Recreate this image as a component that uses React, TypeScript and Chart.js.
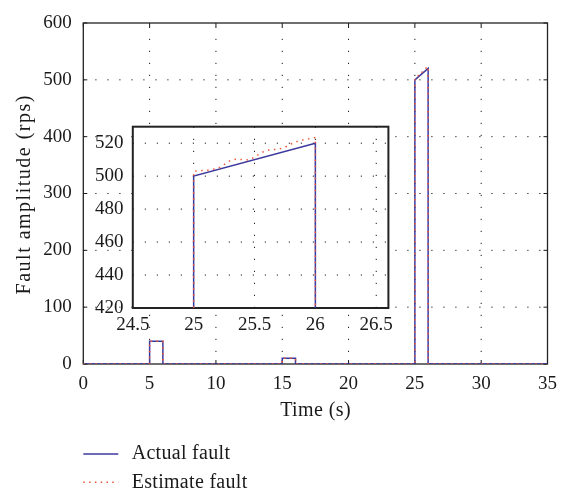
import { useEffect, useRef } from "react";
import { Chart, registerables } from "chart.js";

Chart.register(...registerables);

// Fault profiles over time (s) -> amplitude (rps)
const actualTime = [0, 5, 5, 6, 6, 15, 15, 16, 16, 25, 25, 26, 26, 35];
const actualFault = [0, 0, 40, 40, 0, 0, 10, 10, 0, 0, 500, 520, 0, 0];

const estimateTime = [
  0, 5, 5, 6, 6, 15, 15, 16, 16, 25, 25, 25.1, 25.2, 25.25, 25.3, 25.35, 25.45, 25.5,
  25.55, 25.6, 25.7, 25.75, 25.8, 25.85, 25.9, 26, 26, 35,
];
const estimateFault = [
  0, 0, 40, 40, 0, 0, 10, 10, 0, 0, 503, 503.5, 504.6, 507, 509.5, 510.3, 509.8, 511.5,
  514, 515.7, 516.4, 517.5, 519.5, 521, 522, 523.5, 0, 0,
];

// Axis ticks
const mainXTicks = [0, 5, 10, 15, 20, 25, 30, 35];
const mainYTicks = [0, 100, 200, 300, 400, 500, 600];
const insetXTicks = [24.5, 25, 25.5, 26, 26.5];
const insetYTicks = [420, 440, 460, 480, 500, 520];

const xTitle = "Time (s)";
const yTitle = "Fault amplitude (rps)";

const SERIF = '"Liberation Serif", "Times New Roman", serif';
const ACTUAL_COLOR = "#3d3a9e";
const ESTIMATE_COLOR = "#f0573a";
const INK = "#1a1a1a";

const W = 571;
const H = 492;

const toPoints = (xs: number[], ys: number[]) => xs.map((x, i) => ({ x, y: ys[i] }));

function makeDatasets() {
  return [
    {
      label: "Estimate fault",
      data: toPoints(estimateTime, estimateFault),
      borderColor: ESTIMATE_COLOR,
      backgroundColor: ESTIMATE_COLOR,
      borderWidth: 1.5,
      borderDash: [1.5, 4.5],
      pointRadius: 0,
      tension: 0,
      order: 0,
    },
    {
      label: "Actual fault",
      data: toPoints(actualTime, actualFault),
      borderColor: ACTUAL_COLOR,
      backgroundColor: ACTUAL_COLOR,
      borderWidth: 1.5,
      pointRadius: 0,
      tension: 0,
      order: 1,
    },
  ];
}

// Dotted grid, inward tick marks and the axes box
function framePlugin(
  id: string,
  o: { xVals: number[]; yVals: number[]; frameWidth: number; tickLen: number; fillWhite: boolean }
) {
  return {
    id,
    beforeDatasetsDraw(chart: any) {
      const { ctx, chartArea: a, scales } = chart;
      const xs = scales.x;
      const ys = scales.y;
      ctx.save();
      if (o.fillWhite) {
        ctx.fillStyle = "#fff";
        ctx.fillRect(a.left, a.top, a.right - a.left, a.bottom - a.top);
      }
      ctx.strokeStyle = INK;
      ctx.lineWidth = 1;
      ctx.setLineDash([1.2, 10.8]);
      for (const v of o.xVals) {
        const px = xs.getPixelForValue(v);
        if (px <= a.left + 1 || px >= a.right - 1) continue;
        ctx.beginPath();
        ctx.moveTo(px, a.bottom);
        ctx.lineTo(px, a.top);
        ctx.stroke();
      }
      for (const v of o.yVals) {
        const py = ys.getPixelForValue(v);
        if (py <= a.top + 1 || py >= a.bottom - 1) continue;
        ctx.beginPath();
        ctx.moveTo(a.left, py);
        ctx.lineTo(a.right, py);
        ctx.stroke();
      }
      ctx.setLineDash([]);
      if (o.tickLen > 0) {
        ctx.lineWidth = 1;
        for (const v of o.xVals) {
          const px = xs.getPixelForValue(v);
          ctx.beginPath();
          ctx.moveTo(px, a.bottom);
          ctx.lineTo(px, a.bottom - o.tickLen);
          ctx.moveTo(px, a.top);
          ctx.lineTo(px, a.top + o.tickLen);
          ctx.stroke();
        }
        for (const v of o.yVals) {
          const py = ys.getPixelForValue(v);
          ctx.beginPath();
          ctx.moveTo(a.left, py);
          ctx.lineTo(a.left + o.tickLen, py);
          ctx.moveTo(a.right, py);
          ctx.lineTo(a.right - o.tickLen, py);
          ctx.stroke();
        }
      }
      ctx.lineWidth = o.frameWidth;
      ctx.strokeStyle = "#222";
      ctx.strokeRect(a.left, a.top, a.right - a.left, a.bottom - a.top);
      ctx.restore();
    },
  };
}

// Draws text centred on (cx, baselineY) with extra letter spacing
function spacedText(ctx: any, text: string, cx: number, baseY: number, spacing: number) {
  ctx.letterSpacing = `${spacing}px`;
  const w = ctx.measureText(text).width - spacing;
  ctx.textAlign = "left";
  ctx.fillText(text, cx - w / 2, baseY);
  ctx.letterSpacing = "0px";
}

// Axis titles and the legend stacked below the plot
const annotationPlugin = {
  id: "titlesAndLegend",
  afterDraw(chart: any) {
    const { ctx, chartArea: a } = chart;
    const sets = chart.data.datasets;
    const actual = sets.find((d: any) => d.label === "Actual fault");
    const estimate = sets.find((d: any) => d.label === "Estimate fault");
    ctx.save();
    ctx.fillStyle = INK;
    ctx.font = `20px ${SERIF}`;
    ctx.textBaseline = "alphabetic";

    // x title
    spacedText(ctx, xTitle, (a.left + a.right) / 2, 415.5, 0.4);

    // y title, rotated
    ctx.save();
    ctx.translate(29.5, (a.top + a.bottom) / 2 + 1.5);
    ctx.rotate(-Math.PI / 2);
    spacedText(ctx, yTitle, 0, 0, 1.5);
    ctx.restore();

    // legend
    ctx.lineWidth = 1.5;
    ctx.strokeStyle = actual.borderColor;
    ctx.beginPath();
    ctx.moveTo(83.3, 454);
    ctx.lineTo(118.3, 454);
    ctx.stroke();
    ctx.strokeStyle = estimate.borderColor;
    ctx.setLineDash([1.5, 4.3]);
    ctx.beginPath();
    ctx.moveTo(83.3, 482.3);
    ctx.lineTo(118.3, 482.3);
    ctx.stroke();
    ctx.setLineDash([]);
    ctx.textAlign = "left";
    ctx.letterSpacing = "0.3px";
    ctx.fillText(actual.label, 131.7, 459.3);
    ctx.fillText(estimate.label, 131.7, 487.5);
    ctx.letterSpacing = "0px";
    ctx.restore();
  },
};

const tickFont = { family: SERIF, size: 19 };
const fmt = (v: any) => String(Math.round(Number(v) * 10) / 10);

export default function App() {
  const mainRef = useRef<HTMLCanvasElement | null>(null);
  const insetRef = useRef<HTMLCanvasElement | null>(null);

  useEffect(() => {
    if (!mainRef.current || !insetRef.current) return;

    const main = new Chart(mainRef.current, {
      type: "line",
      data: { datasets: makeDatasets() as any },
      options: {
        responsive: false,
        animation: false,
        devicePixelRatio: 1,
        layout: { padding: { left: 0, right: W - 547.5, top: 12.7, bottom: 0 } },
        plugins: { legend: { display: false }, tooltip: { enabled: false } },
        scales: {
          x: {
            type: "linear",
            min: 0,
            max: 35,
            afterBuildTicks: (s: any) => {
              s.ticks = mainXTicks.map((v) => ({ value: v }));
            },
            ticks: { padding: 8.6, font: tickFont, color: INK, maxRotation: 0, callback: fmt },
            grid: { display: false, drawTicks: false },
            border: { display: false },
            afterFit: (s: any) => {
              s.height = H - 364;
            },
          },
          y: {
            type: "linear",
            min: 0,
            max: 600,
            afterBuildTicks: (s: any) => {
              s.ticks = mainYTicks.map((v) => ({ value: v }));
            },
            ticks: { padding: 11.6, font: tickFont, color: INK, callback: fmt },
            grid: { display: false, drawTicks: false },
            border: { display: false },
            afterFit: (s: any) => {
              s.width = 83.3;
            },
          },
        },
      } as any,
      plugins: [
        framePlugin("mainFrame", {
          xVals: mainXTicks,
          yVals: mainYTicks,
          frameWidth: 1.3,
          tickLen: 4,
          fillWhite: false,
        }),
        annotationPlugin,
      ],
    });

    const inset = new Chart(insetRef.current, {
      type: "line",
      data: { datasets: makeDatasets() as any },
      options: {
        responsive: false,
        animation: false,
        devicePixelRatio: 1,
        layout: { padding: { left: 0, right: W - 388.4, top: 126.7, bottom: 0 } },
        plugins: { legend: { display: false }, tooltip: { enabled: false } },
        scales: {
          x: {
            type: "linear",
            min: 24.5,
            max: 26.6,
            afterBuildTicks: (s: any) => {
              s.ticks = insetXTicks.map((v) => ({ value: v }));
            },
            ticks: { padding: 6, font: tickFont, color: INK, maxRotation: 0, callback: fmt },
            grid: { display: false, drawTicks: false },
            border: { display: false },
            afterFit: (s: any) => {
              s.height = H - 308;
            },
          },
          y: {
            type: "linear",
            min: 420,
            max: 530,
            afterBuildTicks: (s: any) => {
              s.ticks = insetYTicks.map((v) => ({ value: v }));
            },
            ticks: { padding: 9.4, font: tickFont, color: INK, callback: fmt },
            grid: { display: false, drawTicks: false },
            border: { display: false },
            afterFit: (s: any) => {
              s.width = 132.8;
            },
          },
        },
      } as any,
      plugins: [
        framePlugin("insetFrame", {
          xVals: insetXTicks,
          yVals: insetYTicks,
          frameWidth: 2,
          tickLen: 0,
          fillWhite: true,
        }),
      ],
    });

    return () => {
      main.destroy();
      inset.destroy();
    };
  }, []);

  return (
    <div style={{ position: "fixed", left: 0, top: 0, width: W, height: H, background: "#fff" }}>
      <canvas
        ref={mainRef}
        width={W}
        height={H}
        style={{ position: "absolute", left: 0, top: 0, width: W, height: H }}
      />
      <canvas
        ref={insetRef}
        width={W}
        height={H}
        style={{ position: "absolute", left: 0, top: 0, width: W, height: H }}
      />
    </div>
  );
}
